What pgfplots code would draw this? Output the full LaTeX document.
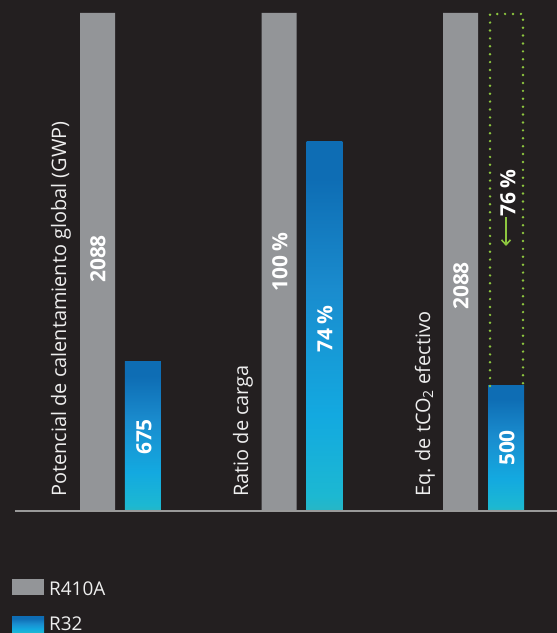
\documentclass[border=0pt]{standalone}
\usepackage{fontspec}
\setmainfont{Open Sans}
\usepackage{pgfplots}
\pgfplotsset{compat=1.18}
\usetikzlibrary{arrows.meta}
\definecolor{bg}{HTML}{231F20}
\definecolor{grayb}{HTML}{939598}
\definecolor{lime}{HTML}{8DC63F}
\definecolor{txt}{HTML}{EEEEEE}
\definecolor{b0}{HTML}{28B6C4}
\definecolor{b1}{HTML}{1CB8D2}
\definecolor{b2}{HTML}{13A9E0}
\definecolor{b3}{HTML}{1A8CCE}
\definecolor{b4}{HTML}{0E6DB4}
\pgfdeclareverticalshading{rthree}{100bp}{color(0bp)=(b0); color(25bp)=(b0); color(27bp)=(b1); color(38bp)=(b2); color(55bp)=(b3); color(70bp)=(b4); color(100bp)=(b4)}
\begin{document}
\begin{tikzpicture}
\useasboundingbox (0,0) rectangle (557bp,633bp);
\begin{scope}
\clip (0,0) rectangle (557bp,633bp);
\begin{axis}[
  at={(0,0)}, anchor=south west,
  scale only axis, width=557bp, height=633bp,
  xmin=-0.6625, xmax=2.4063, ymin=-24.5, ymax=102.61,
  axis lines=none,
  axis background/.style={fill=bg},
  clip=false,
  r32/.style={ybar, bar width=0.1983, bar shift=0.1253, shading=rthree, shade, draw=none},
]
\addplot[ybar, bar width=0.1928, bar shift=-0.1253, fill=grayb, draw=none] coordinates {(0,100) (1,100) (2,100)};
\addplot[r32] coordinates {(0,30.1)};
\addplot[r32] coordinates {(1,74.1)};
\addplot[r32] coordinates {(2,25.1)};
% baseline
\draw[color=gray!80, line width=1.2bp] (axis cs:-0.58,0) -- (axis cs:2.4063,0);
% dotted box
\draw[lime, line width=2.7bp, line cap=round, dash pattern=on 0bp off 7.9bp]
  (axis cs:{2+(490-483.25)/181.5},25.1) -- (axis cs:{2+(490-483.25)/181.5},99.8) -- (axis cs:{2+(523-483.25)/181.5},99.8) -- (axis cs:{2+(523-483.25)/181.5},25.1);
\end{axis}
% category labels
\begin{scope}[every node/.style={text=txt, font=\fontsize{20}{20}\selectfont, rotate=90, anchor=base west, inner sep=0pt}]
\node at (66bp,136bp) {Potencial de calentamiento global (GWP)};
\node at (248bp,136bp) {Ratio de carga};
\node at (430bp,136bp) {Eq. de tCO\textsubscript{2} efectivo};
\end{scope}
% value labels
\begin{scope}[every node/.style={text=white, font=\bfseries\fontsize{21}{21}\selectfont, rotate=90, anchor=center, inner sep=0pt}]
\node at (98bp,374bp) {2088};
\node at (144bp,196bp) {675};
\node at (280bp,371bp) {100\,\%};
\node at (325bp,304bp) {74\,\%};
\node at (461bp,347bp) {2088};
\node at (507bp,185bp) {500};
\node at (508bp,440bp) {76\,\%};
\end{scope}
\draw[lime, line width=1.6bp, -{Straight Barb[length=5bp,width=9bp]}] (506bp,416bp) -- (506bp,387bp);
% legend
\fill[grayb] (12bp,38bp) rectangle (44bp,54bp);
\node[text=txt, font=\fontsize{19}{19}\selectfont, anchor=base west, inner sep=0pt] at (49bp,38bp) {R410A};
\shade[shading=rthree] (12bp,0bp) rectangle (44bp,16bp);
\node[text=txt, font=\fontsize{19}{19}\selectfont, anchor=base west, inner sep=0pt] at (49bp,3bp) {R32};
\end{scope}
\end{tikzpicture}
\end{document}
